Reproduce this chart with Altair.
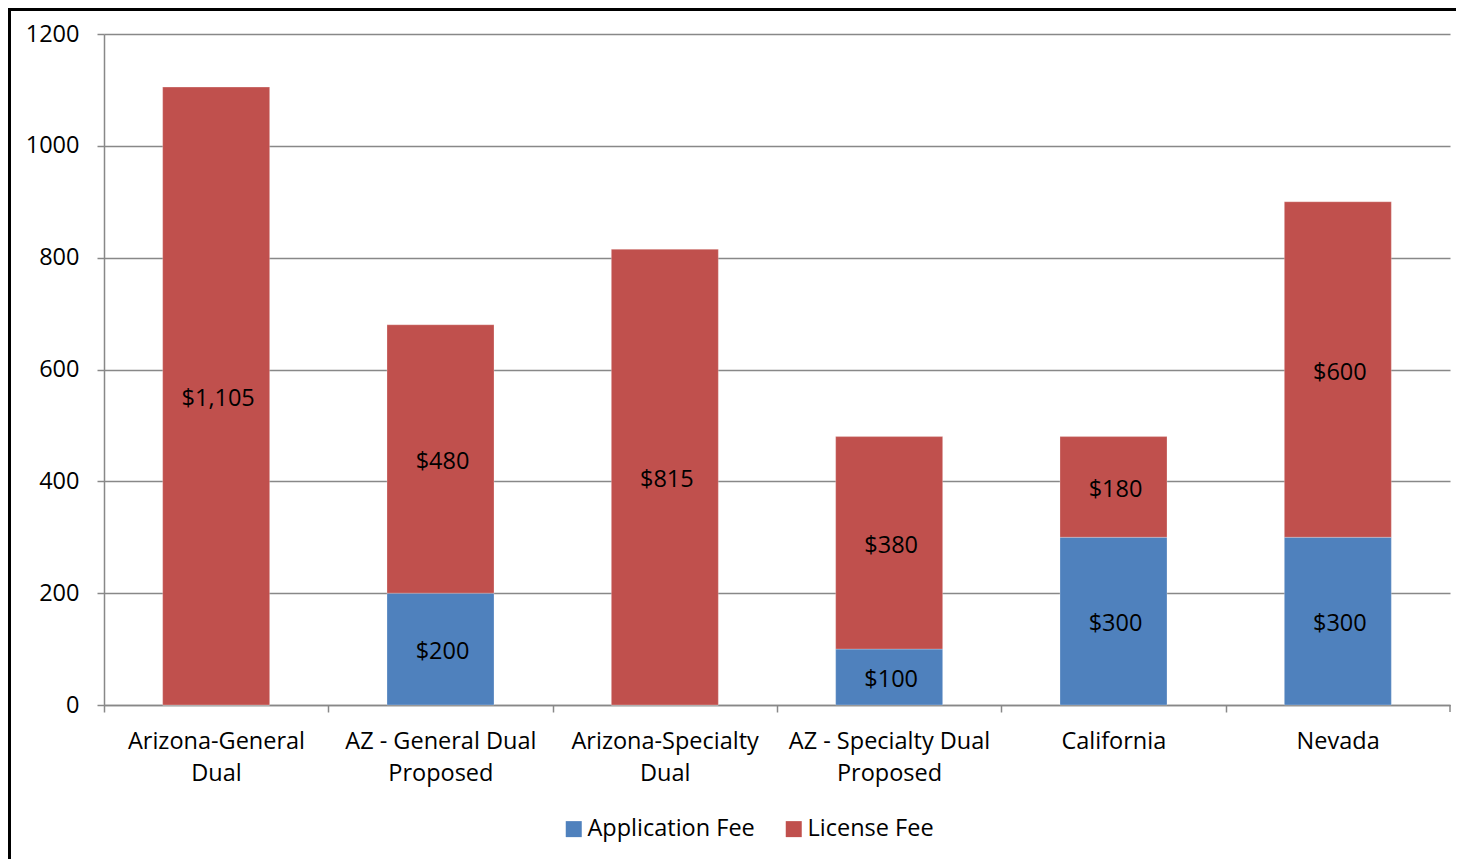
import altair as alt
import pandas as pd

categories = ["Arizona-General|Dual", "AZ - General Dual|Proposed", "Arizona-Specialty|Dual",
              "AZ - Specialty Dual|Proposed", "California", "Nevada"]
series = ["Application Fee", "License Fee"]
application_fee = [0, 200, 0, 100, 300, 300]
license_fee = [1105, 480, 815, 380, 180, 600]
y_ticks = [0, 200, 400, 600, 800, 1000, 1200]
colors = ["#4F81BD", "#C0504D"]

rows = []
for i, c in enumerate(categories):
    rows.append({"cat": c, "series": series[0], "value": application_fee[i], "ord": 0})
    rows.append({"cat": c, "series": series[1], "value": license_fee[i], "ord": 1})
df = pd.DataFrame(rows)

FONT = "Open Sans"
FS = 23.5
W, H = 1346, 671
step = W / len(categories)
p_in = 0.523
p_out = p_in / 2
off = p_out * step
bw = step * (1 - p_in)

xscale = alt.Scale(domain=categories, paddingInner=p_in, paddingOuter=p_out)
yscale = alt.Scale(domain=[0, 1200], nice=False)

base = alt.Chart(df).transform_stack(
    stack="value", groupby=["cat"], as_=["v0", "v1"],
    sort=[alt.SortField("ord", order="ascending")]
)

bars = base.mark_bar(stroke="white", strokeWidth=0.5, strokeOpacity=0.5).encode(
    x=alt.X("cat:N", scale=xscale, sort=categories, title=None,
            axis=alt.Axis(labelExpr="split(datum.label, '|')", labelAngle=0,
                          labelFont=FONT, labelFontSize=FS, labelColor="black",
                          labelLineHeight=32, labelPadding=17,
                          bandPosition=0, tickOffset=-off, labelOffset=bw / 2 + 5,
                          tickSize=7, tickColor="#888888", tickWidth=1.5,
                          domainColor="#888888", domainWidth=1.5, grid=False,
                          labelLimit=300)),
    y=alt.Y("v0:Q", scale=yscale, title=None,
            axis=alt.Axis(values=y_ticks, format="d", labelFont=FONT, labelFontSize=FS,
                          labelColor="black", tickSize=7, labelPadding=18,
                          tickColor="#888888", tickWidth=1.5,
                          domainColor="#888888", domainWidth=1.5,
                          grid=True, gridColor="#888888", gridWidth=1.5)),
    y2="v1:Q",
    color=alt.Color("series:N", scale=alt.Scale(domain=series, range=colors),
                    legend=alt.Legend(title=None, orient="none", legendX=458, legendY=783,
                                      direction="horizontal", symbolType="square",
                                      symbolSize=256, symbolStrokeWidth=0,
                                      labelFont=FONT, labelFontSize=FS, labelColor="black",
                                      labelLimit=400,
                                      labelOffset=2, columnPadding=27)),
)

labels = base.transform_filter("datum.value > 0").transform_calculate(
    mid="(datum.v0 + datum.v1) / 2"
).mark_text(font=FONT, fontSize=FS, color="black", baseline="middle", dy=3, dx=2).encode(
    x=alt.X("cat:N", scale=xscale, sort=categories, bandPosition=0.5),
    y=alt.Y("mid:Q", scale=yscale),
    text=alt.Text("value:Q", format="$,.0f"),
)

blank = alt.Data(values=[{}])
end_tick = alt.Chart(blank).mark_rule(color="#888888", strokeWidth=1.5).encode(
    x=alt.value(W), y=alt.value(H), y2=alt.value(H + 7)
)
frame = alt.Chart(blank).mark_rect(fill=None, stroke="black", strokeWidth=3).encode(
    x=alt.value(-94.5), x2=alt.value(W + 60), y=alt.value(-24.5), y2=alt.value(H + 300)
)

chart = alt.layer(bars, labels, end_tick, frame).properties(
    width=W, height=H,
    autosize=alt.AutoSizeParams(type="none"),
    padding={"left": 96, "top": 26, "right": 6, "bottom": 154},
).configure_view(strokeWidth=0)

chart.save("out.html", embed_options={"renderer": "svg", "actions": False})
